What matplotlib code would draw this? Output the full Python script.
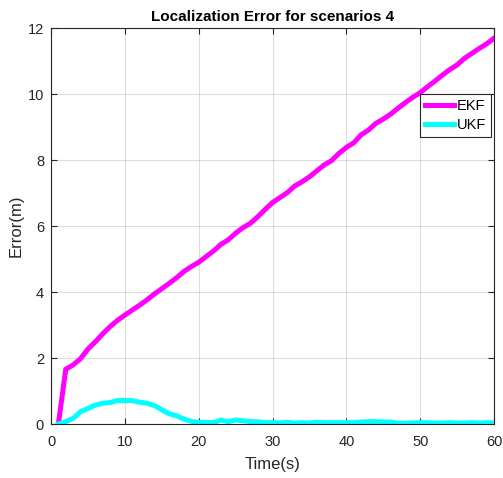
import matplotlib
matplotlib.use("Agg")
import matplotlib.pyplot as plt
from matplotlib import font_manager

time_s = list(range(1, 61))
ekf = [0.00, 1.66, 1.79, 1.98, 2.27, 2.49, 2.73, 2.95, 3.14, 3.30,
       3.45, 3.60, 3.76, 3.94, 4.10, 4.26, 4.43, 4.62, 4.77, 4.90,
       5.07, 5.24, 5.44, 5.58, 5.78, 5.95, 6.08, 6.28, 6.50, 6.71,
       6.86, 7.01, 7.21, 7.34, 7.49, 7.67, 7.85, 7.98, 8.20, 8.38,
       8.52, 8.76, 8.91, 9.11, 9.24, 9.39, 9.57, 9.74, 9.90, 10.04,
       10.22, 10.39, 10.57, 10.74, 10.88, 11.08, 11.23, 11.38, 11.52, 11.69]
ukf = [0.00, 0.07, 0.17, 0.37, 0.47, 0.57, 0.63, 0.65, 0.71, 0.71,
       0.71, 0.66, 0.63, 0.56, 0.43, 0.31, 0.25, 0.15, 0.08, 0.05,
       0.05, 0.04, 0.12, 0.07, 0.12, 0.10, 0.07, 0.07, 0.04, 0.04,
       0.03, 0.05, 0.03, 0.04, 0.03, 0.05, 0.04, 0.04, 0.04, 0.04,
       0.05, 0.06, 0.07, 0.07, 0.06, 0.06, 0.02, 0.02, 0.03, 0.04,
       0.04, 0.03, 0.03, 0.04, 0.03, 0.03, 0.04, 0.03, 0.04, 0.03]
x_ticks = [0, 10, 20, 30, 40, 50, 60]
y_ticks = [0, 2, 4, 6, 8, 10, 12]
title = "Localization Error for scenarios 4"

names = {f.name for f in font_manager.fontManager.ttflist}
title_font = "Liberation Sans Narrow" if "Liberation Sans Narrow" in names else "Liberation Sans"
plt.rcParams['font.family'] = ['Liberation Sans', 'DejaVu Sans']

fig = plt.figure(figsize=(5.03, 4.78), dpi=100)
ax = fig.add_axes([51/503, 1 - 424/478, (494-51)/503, (424-28)/478])

ax.plot(time_s, ekf, color='#ff00ff', lw=3.6, label='EKF', solid_joinstyle='miter')
ax.plot(time_s, ukf, color='#00ffff', lw=3.6, label='UKF', solid_joinstyle='miter')

ax.set_xlim(0, 60)
ax.set_ylim(0, 12)
ax.set_xticks(x_ticks)
ax.set_yticks(y_ticks)
ax.grid(True, color='#262626', alpha=0.15, lw=0.8)
ax.set_axisbelow(True)
ax.tick_params(direction='in', length=4, width=0.8, top=True, right=True,
               labelsize=10.5, colors='#262626')
ax.tick_params(axis='x', pad=8)
ax.tick_params(axis='y', pad=5)
for s in ax.spines.values():
    s.set_color('#262626')
    s.set_linewidth(0.8)

ax.set_title(title, fontsize=11, fontweight='bold', family=title_font, pad=5)
ax.set_xlabel('Time(s)', fontsize=12, color='#262626', labelpad=6)
ax.set_ylabel('Error(m)', fontsize=12, color='#262626', labelpad=3)

leg = ax.legend(loc='upper right', bbox_to_anchor=(0.998, 0.838), fontsize=10.5,
                frameon=True, fancybox=False, edgecolor='#262626', framealpha=1,
                handlelength=2.0, handletextpad=0.15, borderpad=0.35,
                labelspacing=0.3, borderaxespad=0.15)
leg.get_frame().set_linewidth(0.8)

fig.savefig('out.png', dpi=100)
